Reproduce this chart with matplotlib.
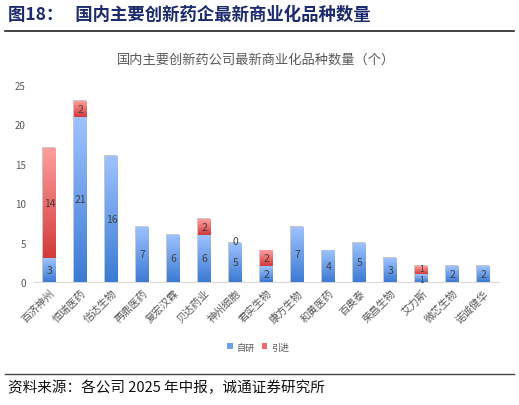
import matplotlib
matplotlib.use('Agg')

import matplotlib.pyplot as plt
import numpy as np
from matplotlib.colors import LinearSegmentedColormap
from matplotlib.patches import Rectangle

plt.rcParams['font.family'] = ['Noto Sans CJK SC', 'DejaVu Sans']

companies = ['百济神州', '恒瑞医药', '信达生物', '再鼎医药', '复宏汉霖', '贝达药业', '神州细胞',
             '君实生物', '康方生物', '和黄医药', '百奥泰', '荣昌生物', '艾力斯', '微芯生物', '诺诚健华']
self_dev = [3, 21, 16, 7, 6, 6, 5, 2, 7, 4, 5, 3, 1, 2, 2]
licensed = [14, 2, None, None, None, 2, 0, 2, None, None, None, None, 1, None, None]
yticks = [0, 5, 10, 15, 20, 25]

blue_map = LinearSegmentedColormap.from_list('b', ['#3C7BD3', '#9EC3FF'])
red_map = LinearSegmentedColormap.from_list('r', ['#D43A3A', '#FF9E9E'])

fig = plt.figure(figsize=(5.19, 4.06), dpi=100)

# header / footer
fig.text(0.016, 0.962, '图18：   国内主要创新药企最新商业化品种数量', fontsize=12.5,
         fontweight='bold', color='#1C2A6E', va='center', ha='left')
fig.add_artist(plt.Line2D([0.01, 0.99], [0.922, 0.922], color='#222222', lw=1.2))
fig.text(0.493, 0.852, '国内主要创新药公司最新商业化品种数量（个）', fontsize=9.5,
         color='#595959', ha='center', va='center')
fig.add_artist(plt.Line2D([0.01, 0.99], [0.076, 0.076], color='#444444', lw=1.0))
fig.text(0.016, 0.044, '资料来源：各公司 2025 年中报，诚通证券研究所', fontsize=10.5,
         color='#111111', ha='left', va='center')

ax = fig.add_axes([0.0655, 0.303, 0.896, 0.485])
x = np.arange(len(companies))
w = 0.41
lic = np.array([v if v is not None else 0 for v in licensed], dtype=float)
sd = np.array(self_dev, dtype=float)

grad = np.linspace(0, 1, 64).reshape(-1, 1)
dx, dy = 0.03, 0.12

def gradient_bars(bottoms, heights, cmap, label):
    bars = ax.bar(x, heights, w, bottom=bottoms, color=cmap(0.5), label=label, zorder=2)
    for b in bars:
        if b.get_height() <= 0:
            continue
        x0, y0 = b.get_x(), b.get_y()
        x1, y1 = x0 + b.get_width(), y0 + b.get_height()
        im = ax.imshow(grad, cmap=cmap, origin='lower', extent=(x0, x1, y0, y1),
                       aspect='auto', zorder=3)
        im.set_clip_path(b)
    return bars

# soft shadow behind the stacks
tot = sd + lic
for xi, t in zip(x, tot):
    ax.add_patch(Rectangle((xi - w / 2 - dx, 0), w, t + dy, color='#9A9A9A',
                           alpha=0.55, lw=0, zorder=1))

gradient_bars(np.zeros_like(sd), sd, blue_map, '自研')
gradient_bars(sd, lic, red_map, '引进')
ax.set_xlim(-0.5, len(companies) - 0.5)
ax.set_ylim(0, 25)

for xi, s, l in zip(x, self_dev, licensed):
    small = s < 2 and l
    fs = 6 if small else 7.5
    ax.text(xi, s / 2 - (0.15 if small else 0), str(s), ha='center', va='center',
            fontsize=fs, color='#404040', zorder=5)
    if l is not None:
        yl = s + l / 2 + (0.15 if small else 0) if l > 0 else s + 0.25
        ax.text(xi, yl, str(l), ha='center', va='center',
                fontsize=fs, color='#404040', zorder=5)

ax.set_yticks(yticks)
ax.set_xticks(x)
ax.set_xticklabels(companies, rotation=45, ha='right', rotation_mode='anchor',
                   fontsize=7.5, color='#595959')
ax.tick_params(axis='y', labelsize=7, colors='#595959', length=0, pad=6)
ax.tick_params(axis='x', length=0, pad=4)
for s in ['top', 'right', 'left']:
    ax.spines[s].set_visible(False)
ax.spines['bottom'].set_color('#D9D9D9')

leg = ax.legend(loc='center', bbox_to_anchor=(0.482, -0.33), ncol=2, frameon=False,
                fontsize=6.5, handlelength=0.6, handleheight=0.6, columnspacing=0.8,
                handletextpad=0.4, labelcolor='#595959')

fig.savefig('out.png', dpi=100)
